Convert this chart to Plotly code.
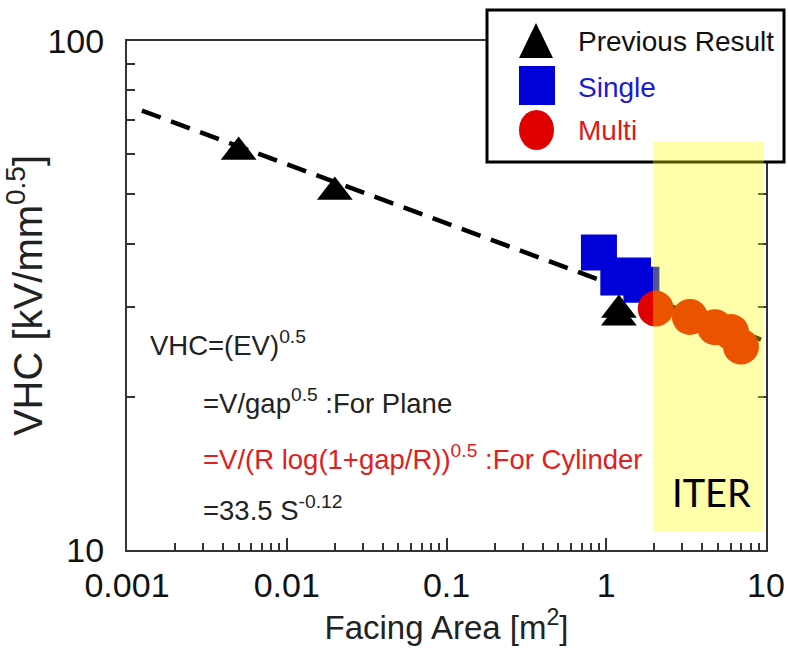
import plotly.graph_objects as go

# ---------------- data ----------------
prev_x = [0.005, 0.02, 1.2, 1.2]
prev_y = [60.5, 50.5, 29.6, 28.6]

single_x = [0.90, 1.19, 1.47, 1.66]
single_y = [38.4, 34.3, 34.6, 33.2]

multi_x = [2.04, 3.34, 4.79, 6.04, 6.97]
multi_y = [29.8, 28.7, 27.4, 26.8, 25.1]

fit_x = [0.00124, 9.3]
fit_y = [73.0, 25.9]

iter_x = [1.96, 9.7]
iter_y = [10.85, 63.3]

x_tickvals = [0.001, 0.01, 0.1, 1, 10]
x_ticktext = ["0.001", "0.01", "0.1", "1", "10"]
y_tickvals = [10, 100]
y_ticktext = ["10", "100"]

x_minor = [m * d for d in [0.001, 0.01, 0.1, 1] for m in range(2, 10)]
y_minor = [m * 10 for m in range(2, 10)]

SANS = "Liberation Sans, Arial, sans-serif"

# plot area in pixels
L, R, T, B = 127, 766, 41, 550
W, H = R - L, B - T


def PX(px):
    return (px - L) / W


def PY(py):
    return (B - py) / H


fig = go.Figure()

fig.add_trace(go.Scatter(x=fit_x, y=fit_y, mode="lines",
                         line=dict(color="black", width=4.5, dash="20px,11px"),
                         hoverinfo="skip"))
fig.add_trace(go.Scatter(x=prev_x, y=prev_y, mode="markers", name="Previous Result",
                         marker=dict(symbol="triangle-up", size=31, color="black")))
fig.add_trace(go.Scatter(x=single_x, y=single_y, mode="markers", name="Single",
                         marker=dict(symbol="square", size=36, color="#0000d8")))
fig.add_trace(go.Scatter(x=multi_x, y=multi_y, mode="markers", name="Multi",
                         marker=dict(symbol="circle", size=36, color="#e00000")))

shapes = []
# legend box
shapes.append(dict(type="rect", xref="paper", yref="paper", layer="above",
                   x0=PX(487), x1=PX(784), y0=PY(162), y1=PY(10),
                   fillcolor="white", line=dict(color="black", width=3)))
# legend glyphs
shapes.append(dict(type="path", xref="paper", yref="paper", layer="above",
                   path=f"M {PX(519)} {PY(58)} L {PX(553)} {PY(58)} L {PX(536)} {PY(23)} Z",
                   fillcolor="black", line=dict(width=0)))
shapes.append(dict(type="rect", xref="paper", yref="paper", layer="above",
                   x0=PX(519), x1=PX(555), y0=PY(105), y1=PY(66),
                   fillcolor="#0000d8", line=dict(width=0)))
shapes.append(dict(type="circle", xref="paper", yref="paper", layer="above",
                   x0=PX(519), x1=PX(554), y0=PY(150), y1=PY(110),
                   fillcolor="#e00000", line=dict(width=0)))
# ITER highlight (translucent yellow above the data)
shapes.append(dict(type="rect", xref="x", yref="y", layer="above",
                   x0=iter_x[0], x1=iter_x[1], y0=iter_y[0], y1=iter_y[1],
                   fillcolor="rgba(255,255,0,0.33)", line=dict(width=0)))

ann = []
legend_items = [("Previous Result", "#111111", 42), ("Single", "#1a1ad6", 87), ("Multi", "#e01818", 131)]
for txt, col, py in legend_items:
    ann.append(dict(text=txt, xref="paper", yref="paper", x=PX(576), y=PY(py),
                    xanchor="left", yanchor="middle", showarrow=False,
                    font=dict(family=SANS, size=28, color=col)))

eq_lines = [
    ("VHC=(EV)<sup>0.5</sup>", "#222222", 148, 343),
    ("=V/gap<sup>0.5</sup> :For Plane", "#222222", 201, 401),
    ("=V/(R log(1+gap/R))<sup>0.5</sup> :For Cylinder", "#e02020", 201, 457),
    ("=33.5 S<sup>-0.12</sup>", "#222222", 201, 508),
]
for txt, col, px, py in eq_lines:
    ann.append(dict(text=txt, xref="paper", yref="paper", x=PX(px), y=PY(py),
                    xanchor="left", yanchor="middle", showarrow=False,
                    font=dict(family=SANS, size=27.5, color=col)))

ann.append(dict(text="ITER", xref="paper", yref="paper", x=PX(711), y=PY(492),
                xanchor="center", yanchor="middle", showarrow=False,
                font=dict(family="Lato, Open Sans, sans-serif", size=38, color="black")))

fig.update_layout(
    width=788, height=658,
    margin=dict(l=L, r=788 - R, t=T, b=658 - B, autoexpand=False),
    plot_bgcolor="white", paper_bgcolor="white",
    showlegend=False,
    shapes=shapes, annotations=ann,
    xaxis=dict(type="log", range=[-3, 1], automargin=False,
               tickmode="array", tickvals=x_tickvals, ticktext=x_ticktext,
               ticks="inside", ticklen=12, tickwidth=1.5, tickcolor="#333",
               minor=dict(tickmode="array", tickvals=x_minor, ticks="inside",
                          ticklen=7, tickwidth=1.5, tickcolor="#333", showgrid=False),
               showline=True, linecolor="#333", linewidth=2, mirror=True,
               showgrid=False, zeroline=False,
               tickfont=dict(family=SANS, size=34, color="#111"),
               ticklabelstandoff=4, ticklabeloverflow="allow",
               title=dict(text="Facing Area [m<sup>2</sup>]", standoff=6,
                          font=dict(family=SANS, size=33, color="#222"))),
    yaxis=dict(type="log", range=[1, 2], automargin=False,
               tickmode="array", tickvals=y_tickvals, ticktext=y_ticktext,
               ticks="inside", ticklen=10, tickwidth=1.5, tickcolor="#333",
               minor=dict(tickmode="array", tickvals=y_minor, ticks="inside",
                          ticklen=8, tickwidth=1.5, tickcolor="#333", showgrid=False),
               showline=True, linecolor="#333", linewidth=2, mirror="ticks",
               showgrid=False, zeroline=False,
               tickfont=dict(family=SANS, size=34, color="#111"),
               ticklabelstandoff=14, ticklabeloverflow="allow",
               title=dict(text="VHC [kV/mm<sup>0.5</sup>]", standoff=12,
                          font=dict(family=SANS, size=40, color="#222"))),
)

fig.write_html("out.html")
